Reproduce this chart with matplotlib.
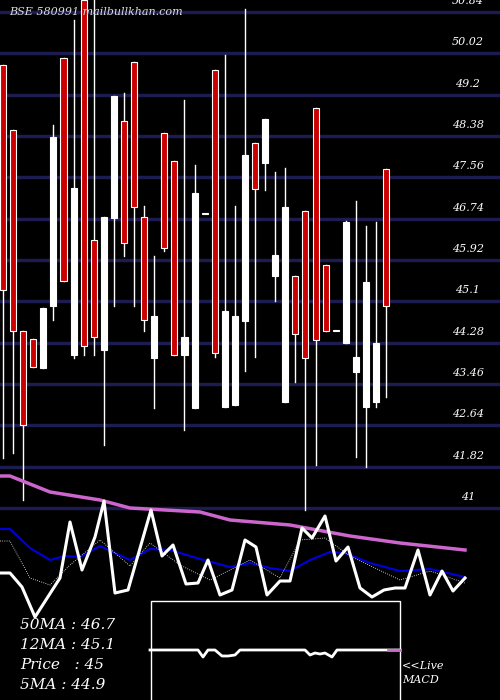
import matplotlib
matplotlib.use("Agg")
import matplotlib.pyplot as plt
from matplotlib.patches import Rectangle

# candles: body top, body bottom, high, low, colour (r=red / w=white)
body_top = [49.79,48.50,44.51,44.35,44.97,48.36,49.93,47.35,51.08,46.32,46.77,49.17,48.68,49.85,46.77,44.81,48.44,47.88,44.39,47.25,46.83,49.69,44.91,44.81,48.00,48.24,48.72,46.02,46.97,45.60,46.89,48.94,45.82,44.51,46.67,43.99,45.48,44.27,47.73]
body_bot = [45.32,44.51,42.65,43.80,43.78,45.01,45.50,44.03,44.21,44.39,44.13,46.75,46.26,46.97,44.73,43.97,46.16,44.03,44.03,42.98,46.83,44.07,43.00,43.04,44.71,47.33,47.84,45.60,43.10,44.45,43.97,44.33,44.51,44.51,44.27,43.70,43.00,43.10,45.01]
highs    = [49.79,48.50,44.51,44.35,44.97,48.60,49.93,50.68,51.08,51.08,46.77,49.17,49.23,49.85,46.99,46.00,48.44,47.88,49.09,47.80,46.83,49.69,49.99,46.99,50.90,48.24,48.72,47.67,47.74,45.60,46.89,48.94,45.82,44.51,46.69,47.09,46.59,46.67,47.73]
lows     = [41.99,42.09,41.16,43.80,43.78,44.73,45.50,43.97,44.03,44.03,42.25,45.01,46.00,45.01,44.51,42.98,46.10,44.03,42.55,42.98,46.83,43.99,43.00,43.04,43.72,43.99,47.31,45.11,43.10,43.50,40.96,41.85,44.51,44.51,44.27,42.01,41.81,43.00,43.20]
colours  = ['r','r','r','r','w','w','r','w','r','r','w','w','r','r','r','w','r','r','w','w','w','r','w','w','w','r','w','w','w','r','r','r','r','w','w','w','w','w','r']
ticks = [50.84,50.02,49.2,48.38,47.56,46.74,45.92,45.1,44.28,43.46,42.64,41.82,41]

# lower indicator panel (height units, x in chart px)
pink_x = [0,10,25,50,100,130,200,230,290,350,400,465]
pink_y = [224,224,218,208,200,192,188,180,175,164,157,150]
blue_x = [0,10,30,50,65,80,100,130,150,170,200,230,250,270,290,310,330,345,370,400,430,465]
blue_y = [171,171,152,140,144,143,154,140,151,150,141,133,137,132,129,140,148,147,137,129,131,123]
dot_x = [0,10,30,50,70,100,130,150,180,210,250,280,300,325,350,400,430,465]
dot_y = [159,159,122,115,135,160,134,157,135,120,140,122,160,162,144,120,129,117]
px_x = [0,10,22,35,60,70,82,95,104,115,128,151,162,173,186,198,208,220,232,245,256,267,280,290,302,312,325,336,348,360,372,384,395,405,418,430,442,453,465]
px_y = [127,127,113,83,122,178,130,163,199,107,110,190,144,155,116,117,140,105,110,160,153,105,119,119,172,162,184,139,153,112,103,110,112,112,150,105,129,109,122]
macd_x = [150,198,203,208,215,222,228,235,240,245,305,310,315,320,325,332,337,342,400]
macd_y = [50,50,43,50,50,44,44,45,50,50,50,45,47,46,47,43,50,50,50]
legend = ["50MA : 46.7", "12MA : 45.1", "Price   : 45", "5MA : 44.9"]

fig = plt.figure(figsize=(5, 7), dpi=100, facecolor='black')
ax = fig.add_axes([0, 0, 1, 1], facecolor='black')
ax.set_xlim(-0.3, 49.3)
ax.set_ylim(51.08 - 700 * 0.01984, 51.08)
ax.axis('off')
for t in ticks:
    ax.axhline(t, color='#1c1c50', lw=2.5, zorder=0)
    ax.text(46.1, t + 0.12, f"{t:g}", color='white', fontsize=8, family='DejaVu Serif',
            style='italic', ha='center', va='bottom')
w = 0.6
for i in range(len(colours)):
    ax.plot([i, i], [lows[i], highs[i]], color='white', lw=1, zorder=2)
    fc = '#cc0000' if colours[i] == 'r' else 'white'
    h = max(body_top[i] - body_bot[i], 0.03)
    ax.add_patch(Rectangle((i - w / 2, body_bot[i]), w, h, facecolor=fc,
                           edgecolor='white', lw=0.8, zorder=3))
ax.text(0.6, 50.84, "BSE 580991 mailbullkhan.com", color='#dddddd', fontsize=8,
        family='DejaVu Serif', style='italic', va='center')

bx = fig.add_axes([0, 0, 1, 1], facecolor='none')
bx.set_xlim(0, 500)
bx.set_ylim(0, 700)
bx.axis('off')
bx.plot(pink_x, pink_y, color='#cc66cc', lw=2.5)
bx.plot(blue_x, blue_y, color='#0000dd', lw=1.5)
bx.plot(dot_x, dot_y, color='white', lw=0.6, ls=':')
bx.plot(px_x, px_y, color='white', lw=2.2)
bx.add_patch(Rectangle((151, -2), 249, 101, facecolor='black', edgecolor='white', lw=1, zorder=4))
bx.plot(macd_x, macd_y, color='white', lw=2, zorder=5)
bx.plot([388, 400], [50, 50], color='#cc66cc', lw=2, zorder=6)
for k, s in enumerate(legend):
    bx.text(20, 75 - k * 20, s, color='white', fontsize=11, family='DejaVu Serif',
            style='italic', va='center')
bx.text(402, 34, "<<Live", color='white', fontsize=8, family='DejaVu Serif', style='italic', va='center')
bx.text(402, 20, "MACD", color='white', fontsize=8, family='DejaVu Serif', style='italic', va='center')

fig.savefig("out.png", dpi=100, facecolor='black')
